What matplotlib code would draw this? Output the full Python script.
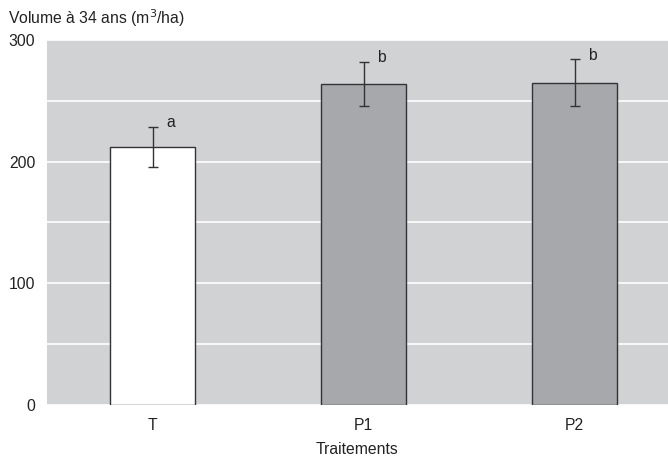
import numpy as np
import matplotlib.pyplot as plt

plt.rcParams['font.family'] = ['Liberation Sans', 'DejaVu Sans']

treatments = ['T', 'P1', 'P2']
volumes = [212, 264, 265]
errors = [16.5, 18, 19]
letters = ['a', 'b', 'b']
bar_colors = ['white', '#a7a8ab', '#a7a8ab']

fs = 11.3
fig = plt.figure(figsize=(6.68, 4.58), dpi=100)
ax = fig.add_axes([47 / 668, 53 / 458, 621 / 668, 365 / 458])
ax.set_facecolor('#d1d2d4')

x = np.arange(len(treatments))
ax.bar(x, volumes, width=0.403, color=bar_colors, edgecolor='#333333', linewidth=1.0, zorder=3)
ax.errorbar(x, volumes, yerr=errors, fmt='none', ecolor='#333333', elinewidth=1.0,
            capsize=3.5, capthick=1.0, zorder=4)
for xi, v, e, lab in zip(x, volumes, errors, letters):
    ax.text(xi + 0.066, v + e + 3.5, lab, fontsize=fs, color='#222222', ha='left', va='center')

ax.set_xlim(-0.5, 2.443)
ax.set_ylim(0, 300)
ax.set_yticks([0, 100, 200, 300])
ax.set_yticks([50, 150, 250], minor=True)
ax.grid(axis='y', which='both', color='white', linewidth=1.2, zorder=1)
ax.set_axisbelow(True)
ax.set_xticks(x)
ax.set_xticklabels(treatments)
ax.tick_params(axis='both', which='both', length=0, labelsize=fs, colors='#222222')
ax.tick_params(axis='x', pad=9)
ax.tick_params(axis='y', pad=8.5)
for s in ax.spines.values():
    s.set_visible(False)

ax.set_xlabel('Traitements', fontsize=fs, color='#222222', labelpad=7)
fig.text(8 / 668, 1 - 18 / 458, 'Volume à 34 ans (m$^3$/ha)', fontsize=fs, color='#222222',
         va='center', ha='left')

fig.savefig('out.png', dpi=100)
